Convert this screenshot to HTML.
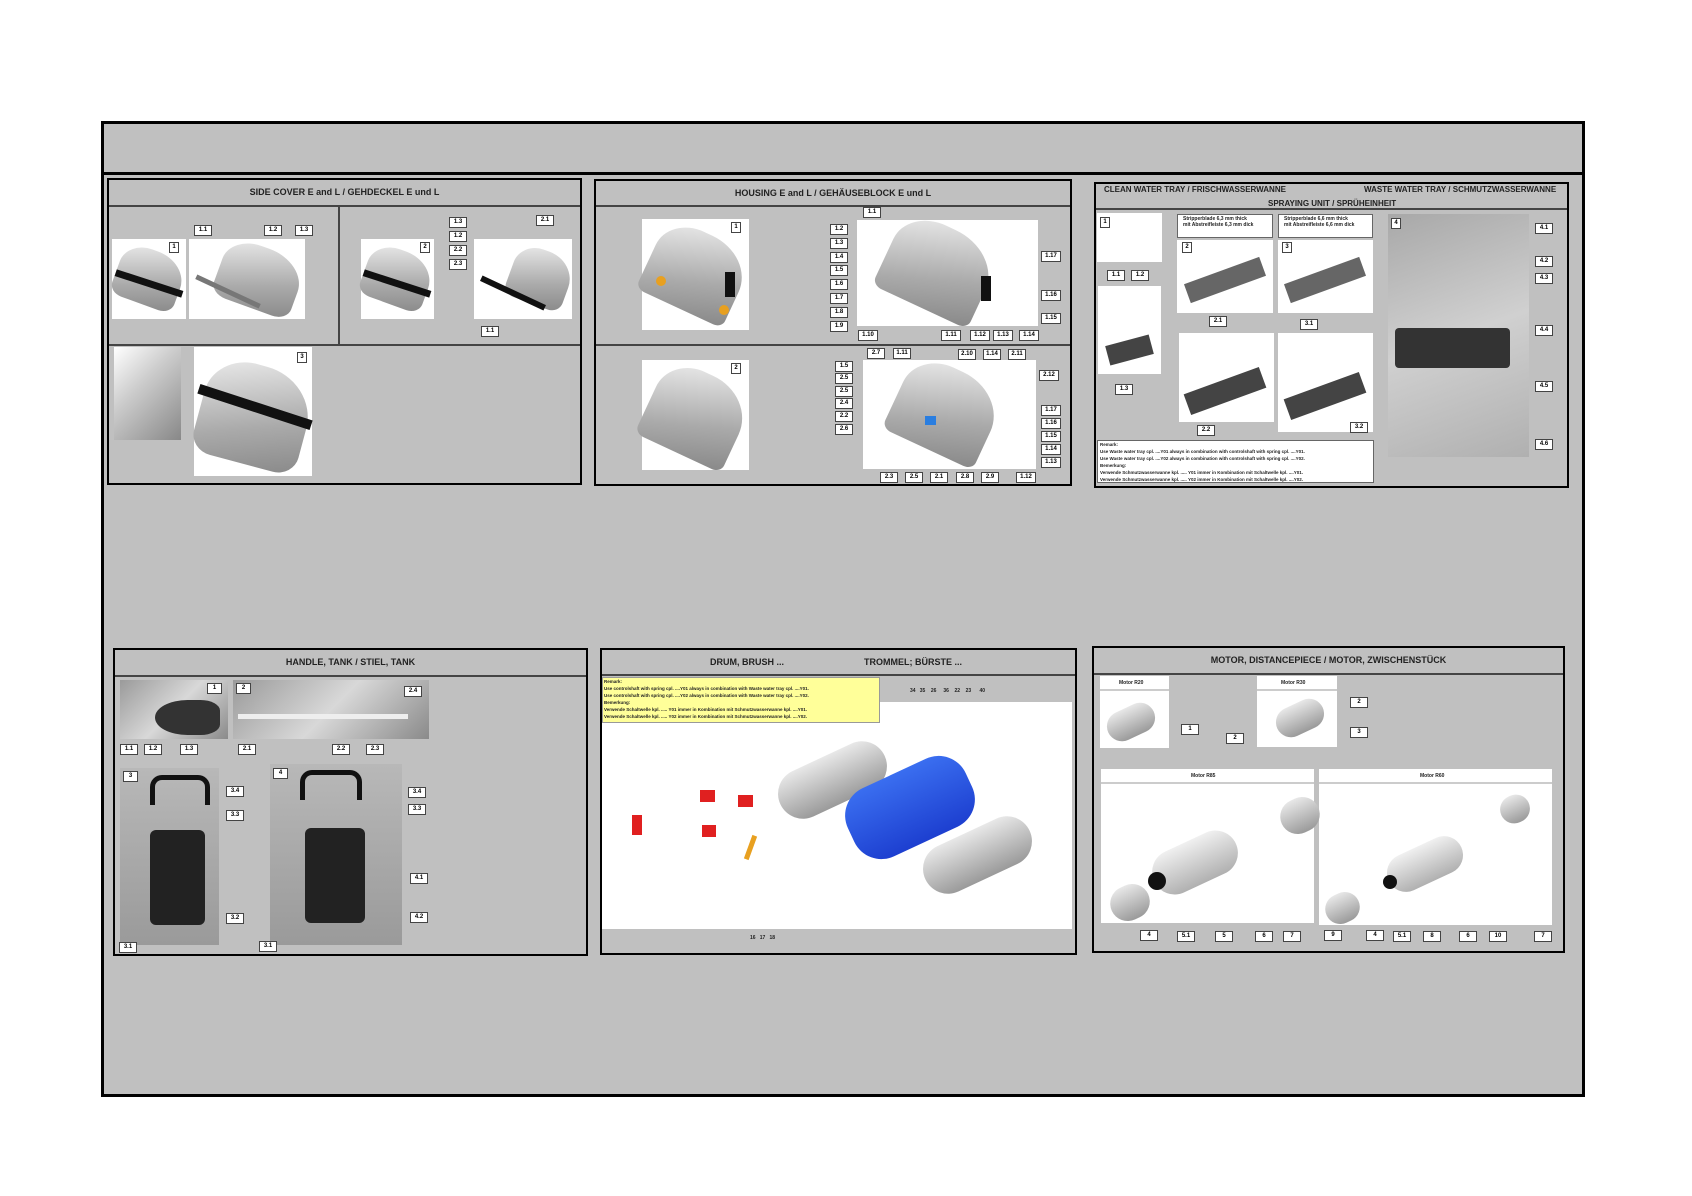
<!DOCTYPE html>
<html><head><meta charset="utf-8"><style>
*{margin:0;padding:0;box-sizing:border-box}
body{width:1692px;height:1196px;background:#fff;position:relative;overflow:hidden;font-family:"Liberation Sans",sans-serif}
.a{position:absolute}
.outer{left:101px;top:121px;width:1484px;height:976px;background:#c0c0c0;border:3px solid #000}
.hl{left:101px;top:172px;width:1484px;height:3px;background:#000}
.p{position:absolute;border:2px solid #000;background:#c0c0c0}
.t{position:absolute;left:0;right:0;top:0;border-bottom:2px solid #444;font-weight:bold;font-size:9px;color:#222;text-align:center}
.w{position:absolute;background:#fff}
.l{position:absolute;background:#fff;border:1px solid #444;font:bold 6px "Liberation Sans",sans-serif;text-align:center;width:18px;height:11px;line-height:9px;color:#000}
.g{position:absolute;background:linear-gradient(160deg,#eee,#aaa 60%,#888);border-radius:40% 50% 20% 20%}
.bk{position:absolute;background:#111}
.ph{position:absolute;background:linear-gradient(135deg,#9a9a9a,#d8d8d8 50%,#8a8a8a)}
.cyl{position:absolute;background:linear-gradient(180deg,#e8e8e8,#9a9a9a);border-radius:30px;transform:rotate(-25deg)}
.tx{position:absolute;font:bold 5px "Liberation Sans",sans-serif;color:#222;line-height:7px;white-space:nowrap}
</style></head><body>
<div class="a outer"></div>
<div class="a hl"></div>

<!-- Panel 1 -->
<div class="p" style="left:107px;top:178px;width:475px;height:307px">
 <div class="t" style="height:27px;line-height:25px">SIDE COVER E and L / GEHDECKEL E und L</div>
 <div class="a" style="left:229px;top:25px;width:2px;height:139px;background:#444"></div>
 <div class="a" style="left:0;top:164px;width:471px;height:2px;background:#444"></div>
</div>
<div class="w" style="left:112px;top:239px;width:74px;height:80px"></div>
<div class="w" style="left:189px;top:239px;width:116px;height:80px"></div>
<div class="w" style="left:361px;top:239px;width:73px;height:80px"></div>
<div class="w" style="left:474px;top:239px;width:98px;height:80px"></div>
<div class="ph" style="left:114px;top:347px;width:67px;height:93px;background:linear-gradient(135deg,#fff,#ccc 40%,#888)"></div>
<div class="w" style="left:194px;top:347px;width:118px;height:129px"></div>
<div class="g" style="left:116px;top:250px;width:66px;height:55px;transform:rotate(20deg)"></div>
<div class="bk" style="left:114px;top:280px;width:70px;height:7px;transform:rotate(18deg)"></div>
<div class="g" style="left:218px;top:247px;width:82px;height:62px;transform:rotate(20deg)"></div>
<div class="bk" style="left:193px;top:289px;width:70px;height:5px;transform:rotate(25deg);background:#777"></div>
<div class="g" style="left:364px;top:250px;width:66px;height:55px;transform:rotate(20deg)"></div>
<div class="bk" style="left:362px;top:280px;width:70px;height:7px;transform:rotate(18deg)"></div>
<div class="g" style="left:510px;top:250px;width:60px;height:55px;transform:rotate(20deg)"></div>
<div class="bk" style="left:478px;top:290px;width:70px;height:6px;transform:rotate(25deg)"></div>
<div class="g" style="left:200px;top:365px;width:108px;height:100px;transform:rotate(15deg)"></div>
<div class="bk" style="left:196px;top:402px;width:118px;height:10px;transform:rotate(18deg)"></div>
<div class="l" style="left:194px;top:225px">1.1</div><div class="l" style="left:264px;top:225px">1.2</div><div class="l" style="left:295px;top:225px">1.3</div>
<div class="l" style="left:169px;top:242px;width:10px">1</div><div class="l" style="left:420px;top:242px;width:10px">2</div>
<div class="l" style="left:449px;top:217px">1.3</div><div class="l" style="left:449px;top:231px">1.2</div><div class="l" style="left:449px;top:245px">2.2</div><div class="l" style="left:449px;top:259px">2.3</div>
<div class="l" style="left:536px;top:215px">2.1</div><div class="l" style="left:481px;top:326px">1.1</div>
<div class="l" style="left:297px;top:352px;width:10px">3</div>

<!-- Panel 2 -->
<div class="p" style="left:594px;top:179px;width:478px;height:307px">
 <div class="t" style="height:26px;line-height:24px">HOUSING E and L / GEHÄUSEBLOCK E und L</div>
 <div class="a" style="left:0;top:163px;width:474px;height:2px;background:#444"></div>
</div>
<div class="w" style="left:642px;top:219px;width:107px;height:111px"></div>
<div class="w" style="left:642px;top:360px;width:107px;height:110px"></div>
<div class="w" style="left:857px;top:220px;width:181px;height:106px"></div>
<div class="w" style="left:863px;top:360px;width:173px;height:109px"></div>
<div class="g" style="left:648px;top:232px;width:95px;height:80px;transform:rotate(25deg);border-radius:40% 50% 10% 10%"></div>
<div class="g" style="left:648px;top:372px;width:95px;height:85px;transform:rotate(25deg);border-radius:40% 50% 10% 10%"></div>
<div class="g" style="left:885px;top:226px;width:105px;height:85px;transform:rotate(25deg);border-radius:40% 50% 10% 10%"></div>
<div class="g" style="left:895px;top:368px;width:100px;height:85px;transform:rotate(25deg);border-radius:40% 50% 10% 10%"></div>
<div class="bk" style="left:725px;top:272px;width:10px;height:25px"></div>
<div class="bk" style="left:981px;top:276px;width:10px;height:25px"></div>
<div class="a" style="left:656px;top:276px;width:10px;height:10px;border-radius:50%;background:#e8a020"></div>
<div class="a" style="left:719px;top:305px;width:10px;height:10px;border-radius:50%;background:#e8a020"></div>
<div class="a" style="left:925px;top:416px;width:11px;height:9px;background:#2a7ee0"></div>
<div class="l" style="left:863px;top:207px">1.1</div>
<div class="l" style="left:830px;top:224px">1.2</div><div class="l" style="left:830px;top:238px">1.3</div><div class="l" style="left:830px;top:252px">1.4</div><div class="l" style="left:830px;top:265px">1.5</div><div class="l" style="left:830px;top:279px">1.6</div><div class="l" style="left:830px;top:293px">1.7</div><div class="l" style="left:830px;top:307px">1.8</div><div class="l" style="left:830px;top:321px">1.9</div>
<div class="l" style="left:858px;top:330px;width:20px">1.10</div><div class="l" style="left:941px;top:330px;width:20px">1.11</div><div class="l" style="left:970px;top:330px;width:20px">1.12</div><div class="l" style="left:993px;top:330px;width:20px">1.13</div><div class="l" style="left:1019px;top:330px;width:20px">1.14</div>
<div class="l" style="left:1041px;top:251px;width:20px">1.17</div><div class="l" style="left:1041px;top:290px;width:20px">1.16</div><div class="l" style="left:1041px;top:313px;width:20px">1.15</div>
<div class="l" style="left:731px;top:222px;width:10px">1</div><div class="l" style="left:731px;top:363px;width:10px">2</div>
<div class="l" style="left:867px;top:348px">2.7</div><div class="l" style="left:893px;top:348px">1.11</div><div class="l" style="left:958px;top:349px">2.10</div><div class="l" style="left:983px;top:349px">1.14</div><div class="l" style="left:1008px;top:349px">2.11</div><div class="l" style="left:1039px;top:370px;width:20px">2.12</div>
<div class="l" style="left:835px;top:361px">1.5</div><div class="l" style="left:835px;top:373px">2.5</div><div class="l" style="left:835px;top:386px">2.5</div><div class="l" style="left:835px;top:398px">2.4</div><div class="l" style="left:835px;top:411px">2.2</div><div class="l" style="left:835px;top:424px">2.6</div>
<div class="l" style="left:1041px;top:405px;width:20px">1.17</div><div class="l" style="left:1041px;top:418px;width:20px">1.16</div><div class="l" style="left:1041px;top:431px;width:20px">1.15</div><div class="l" style="left:1041px;top:444px;width:20px">1.14</div><div class="l" style="left:1041px;top:457px;width:20px">1.13</div>
<div class="l" style="left:880px;top:472px">2.3</div><div class="l" style="left:905px;top:472px">2.5</div><div class="l" style="left:930px;top:472px">2.1</div><div class="l" style="left:956px;top:472px">2.8</div><div class="l" style="left:981px;top:472px">2.9</div><div class="l" style="left:1016px;top:472px;width:20px">1.12</div>

<!-- Panel 3 -->
<div class="p" style="left:1094px;top:182px;width:475px;height:306px">
 <div class="a" style="left:0;right:0;top:0;height:26px;border-bottom:2px solid #444"></div>
 <div class="tx" style="left:8px;top:2px;font-size:8px">CLEAN WATER TRAY / FRISCHWASSERWANNE</div>
 <div class="tx" style="left:268px;top:2px;font-size:8px">WASTE WATER TRAY / SCHMUTZWASSERWANNE</div>
 <div class="tx" style="left:172px;top:16px;font-size:8px">SPRAYING UNIT / SPRÜHEINHEIT</div>
</div>
<div class="w" style="left:1097px;top:213px;width:65px;height:49px"></div>
<div class="w" style="left:1098px;top:286px;width:63px;height:88px"></div>
<div class="w" style="left:1177px;top:214px;width:96px;height:24px;border:1px solid #666"></div>
<div class="w" style="left:1278px;top:214px;width:95px;height:24px;border:1px solid #666"></div>
<div class="w" style="left:1177px;top:240px;width:96px;height:73px"></div>
<div class="w" style="left:1278px;top:240px;width:95px;height:73px"></div>
<div class="w" style="left:1179px;top:333px;width:95px;height:89px"></div>
<div class="w" style="left:1278px;top:333px;width:95px;height:99px"></div>
<div class="ph" style="left:1388px;top:214px;width:141px;height:243px;background:linear-gradient(160deg,#a8a8a8,#d0d0d0 50%,#b0b0b0)"></div>
<div class="bk" style="left:1395px;top:328px;width:115px;height:40px;background:#333;border-radius:4px"></div>
<div class="bk" style="left:1107px;top:340px;width:45px;height:20px;background:#444;transform:rotate(-15deg)"></div>
<div class="bk" style="left:1185px;top:270px;width:80px;height:20px;background:#666;transform:rotate(-20deg)"></div>
<div class="bk" style="left:1285px;top:270px;width:80px;height:20px;background:#666;transform:rotate(-20deg)"></div>
<div class="bk" style="left:1185px;top:380px;width:80px;height:22px;background:#444;transform:rotate(-20deg)"></div>
<div class="bk" style="left:1285px;top:385px;width:80px;height:22px;background:#444;transform:rotate(-20deg)"></div>
<div class="tx" style="left:1183px;top:216px;line-height:6px">Stripperblade 6,3 mm thick<br>mit Abstreifleiste 6,3 mm dick</div>
<div class="tx" style="left:1284px;top:216px;line-height:6px">Stripperblade 6,6 mm thick<br>mit Abstreifleiste 6,6 mm dick</div>
<div class="w" style="left:1097px;top:440px;width:277px;height:43px;border:1px solid #666"></div>
<div class="tx" style="left:1100px;top:441px;line-height:7px;font-size:4.5px">Remark:<br>Use Waste water tray cpl. ....Y01 always in combination with controlshaft with spring cpl. ....Y01.<br>Use Waste water tray cpl. ....Y02 always in combination with controlshaft with spring cpl. ....Y02.<br>Bemerkung:<br>Verwende Schmutzwasserwanne kpl. ..... Y01 immer in Kombination mit Schaltwelle kpl. ....Y01.<br>Verwende Schmutzwasserwanne kpl. ..... Y02 immer in Kombination mit Schaltwelle kpl. ....Y02.</div>
<div class="l" style="left:1100px;top:217px;width:10px">1</div><div class="l" style="left:1107px;top:270px">1.1</div><div class="l" style="left:1131px;top:270px">1.2</div><div class="l" style="left:1115px;top:384px">1.3</div>
<div class="l" style="left:1182px;top:242px;width:10px">2</div><div class="l" style="left:1282px;top:242px;width:10px">3</div>
<div class="l" style="left:1209px;top:316px">2.1</div><div class="l" style="left:1300px;top:319px">3.1</div><div class="l" style="left:1197px;top:425px">2.2</div><div class="l" style="left:1350px;top:422px">3.2</div>
<div class="l" style="left:1391px;top:218px;width:10px">4</div>
<div class="l" style="left:1535px;top:223px">4.1</div><div class="l" style="left:1535px;top:256px">4.2</div><div class="l" style="left:1535px;top:273px">4.3</div><div class="l" style="left:1535px;top:325px">4.4</div><div class="l" style="left:1535px;top:381px">4.5</div><div class="l" style="left:1535px;top:439px">4.6</div>

<!-- Panel 4 -->
<div class="p" style="left:113px;top:648px;width:475px;height:308px">
 <div class="t" style="height:27px;line-height:25px">HANDLE, TANK / STIEL, TANK</div>
</div>
<div class="ph" style="left:120px;top:680px;width:108px;height:59px"></div>
<div class="ph" style="left:233px;top:680px;width:196px;height:59px"></div>
<div class="ph" style="left:120px;top:768px;width:99px;height:177px;background:linear-gradient(180deg,#b8b8b8,#9a9a9a)"></div>
<div class="ph" style="left:270px;top:764px;width:132px;height:181px;background:linear-gradient(180deg,#b8b8b8,#9a9a9a)"></div>
<div class="bk" style="left:155px;top:700px;width:65px;height:35px;border-radius:50% 30% 30% 50%;background:#333"></div>
<div class="a" style="left:238px;top:714px;width:170px;height:5px;background:#eee"></div>
<div class="bk" style="left:150px;top:830px;width:55px;height:95px;background:#222;border-radius:6px"></div>
<div class="bk" style="left:305px;top:828px;width:60px;height:95px;background:#222;border-radius:6px"></div>
<div class="a" style="left:150px;top:775px;width:60px;height:30px;border:5px solid #111;border-bottom:none;border-radius:12px 12px 0 0"></div>
<div class="a" style="left:300px;top:770px;width:62px;height:30px;border:5px solid #111;border-bottom:none;border-radius:12px 12px 0 0"></div>
<div class="l" style="left:207px;top:683px;width:15px">1</div><div class="l" style="left:236px;top:683px;width:15px">2</div><div class="l" style="left:404px;top:686px">2.4</div>
<div class="l" style="left:120px;top:744px">1.1</div><div class="l" style="left:144px;top:744px">1.2</div><div class="l" style="left:180px;top:744px">1.3</div><div class="l" style="left:238px;top:744px">2.1</div><div class="l" style="left:332px;top:744px">2.2</div><div class="l" style="left:366px;top:744px">2.3</div>
<div class="l" style="left:123px;top:771px;width:15px">3</div><div class="l" style="left:273px;top:768px;width:15px">4</div>
<div class="l" style="left:226px;top:786px">3.4</div><div class="l" style="left:226px;top:810px">3.3</div><div class="l" style="left:226px;top:913px">3.2</div><div class="l" style="left:119px;top:942px">3.1</div>
<div class="l" style="left:408px;top:787px">3.4</div><div class="l" style="left:408px;top:804px">3.3</div><div class="l" style="left:410px;top:873px">4.1</div><div class="l" style="left:410px;top:912px">4.2</div><div class="l" style="left:259px;top:941px">3.1</div>

<!-- Panel 5 -->
<div class="p" style="left:600px;top:648px;width:477px;height:307px">
 <div class="t" style="height:26px;line-height:24px"><span style="position:absolute;left:108px">DRUM, BRUSH ...</span><span style="position:absolute;left:262px">TROMMEL; BÜRSTE ...</span></div>
</div>
<div class="w" style="left:602px;top:702px;width:470px;height:227px"></div>
<div class="a" style="left:602px;top:677px;width:278px;height:46px;background:#ffff99;border:1px solid #999"></div>
<div class="tx" style="left:604px;top:678px;font-size:4.5px;line-height:7px">Remark:<br>Use controlshaft with spring cpl. ....Y01 always in combination with Waste water tray cpl. ....Y01.<br>Use controlshaft with spring cpl. ....Y02 always in combination with Waste water tray cpl. ....Y02.<br>Bemerkung:<br>Verwende Schaltwelle kpl. ..... Y01 immer in Kombination mit Schmutzwasserwanne kpl. ....Y01.<br>Verwende Schaltwelle kpl. ..... Y02 immer in Kombination mit Schmutzwasserwanne kpl. ....Y02.</div>
<div class="cyl" style="left:775px;top:755px;width:115px;height:50px"></div>
<div class="cyl" style="left:920px;top:830px;width:115px;height:50px"></div>
<div class="a" style="left:845px;top:770px;width:130px;height:75px;background:linear-gradient(180deg,#3a6ef0,#1d3fd0);border-radius:30px;transform:rotate(-25deg)"></div>
<div class="a" style="left:700px;top:790px;width:15px;height:12px;background:#e02020"></div>
<div class="a" style="left:738px;top:795px;width:15px;height:12px;background:#e02020"></div>
<div class="a" style="left:702px;top:825px;width:14px;height:12px;background:#e02020"></div>
<div class="a" style="left:632px;top:815px;width:10px;height:20px;background:#e02020"></div>
<div class="a" style="left:748px;top:835px;width:5px;height:25px;background:#e8a020;transform:rotate(20deg)"></div>
<div class="tx" style="left:910px;top:688px;font-size:5px">34&nbsp;&nbsp;&nbsp;35&nbsp;&nbsp;&nbsp;&nbsp;26&nbsp;&nbsp;&nbsp;&nbsp;&nbsp;36&nbsp;&nbsp;&nbsp;&nbsp;22&nbsp;&nbsp;&nbsp;&nbsp;23&nbsp;&nbsp;&nbsp;&nbsp;&nbsp;&nbsp;40</div>
<div class="tx" style="left:750px;top:935px;font-size:5px">16&nbsp;&nbsp;&nbsp;17&nbsp;&nbsp;&nbsp;18</div>

<!-- Panel 6 -->
<div class="p" style="left:1092px;top:646px;width:473px;height:307px">
 <div class="t" style="height:27px;line-height:25px">MOTOR, DISTANCEPIECE / MOTOR, ZWISCHENSTÜCK</div>
</div>
<div class="w" style="left:1100px;top:676px;width:69px;height:72px"></div>
<div class="w" style="left:1257px;top:676px;width:80px;height:71px"></div>
<div class="w" style="left:1101px;top:769px;width:213px;height:154px"></div>
<div class="w" style="left:1319px;top:769px;width:233px;height:156px"></div>
<div class="a" style="left:1101px;top:782px;width:213px;height:2px;background:#ccc"></div>
<div class="a" style="left:1319px;top:782px;width:233px;height:2px;background:#ccc"></div>
<div class="a" style="left:1100px;top:689px;width:69px;height:2px;background:#ccc"></div>
<div class="a" style="left:1257px;top:689px;width:80px;height:2px;background:#ccc"></div>
<div class="tx" style="left:1119px;top:680px">Motor R20</div><div class="tx" style="left:1281px;top:680px">Motor R30</div>
<div class="tx" style="left:1191px;top:773px">Motor R85</div><div class="tx" style="left:1420px;top:773px">Motor R60</div>
<div class="cyl" style="left:1106px;top:707px;width:50px;height:30px"></div>
<div class="cyl" style="left:1275px;top:703px;width:50px;height:30px"></div>
<div class="cyl" style="left:1150px;top:840px;width:90px;height:45px;background:linear-gradient(180deg,#f0f0f0,#b0b0b0)"></div>
<div class="cyl" style="left:1385px;top:845px;width:80px;height:38px;background:linear-gradient(180deg,#f0f0f0,#b0b0b0)"></div>
<div class="cyl" style="left:1280px;top:798px;width:40px;height:35px"></div>
<div class="cyl" style="left:1500px;top:795px;width:30px;height:28px"></div>
<div class="cyl" style="left:1110px;top:885px;width:40px;height:35px"></div>
<div class="cyl" style="left:1325px;top:893px;width:35px;height:30px"></div>
<div class="bk" style="left:1148px;top:872px;width:18px;height:18px;border-radius:50%"></div>
<div class="bk" style="left:1383px;top:875px;width:14px;height:14px;border-radius:50%"></div>
<div class="l" style="left:1181px;top:724px">1</div><div class="l" style="left:1350px;top:697px">2</div><div class="l" style="left:1350px;top:727px">3</div><div class="l" style="left:1226px;top:733px">2</div>
<div class="l" style="left:1140px;top:930px">4</div><div class="l" style="left:1177px;top:931px">5.1</div><div class="l" style="left:1215px;top:931px">5</div><div class="l" style="left:1255px;top:931px">6</div><div class="l" style="left:1283px;top:931px">7</div>
<div class="l" style="left:1324px;top:930px">9</div><div class="l" style="left:1366px;top:930px">4</div><div class="l" style="left:1393px;top:931px">5.1</div><div class="l" style="left:1423px;top:931px">8</div><div class="l" style="left:1459px;top:931px">6</div><div class="l" style="left:1489px;top:931px">10</div><div class="l" style="left:1534px;top:931px">7</div>
</body></html>
